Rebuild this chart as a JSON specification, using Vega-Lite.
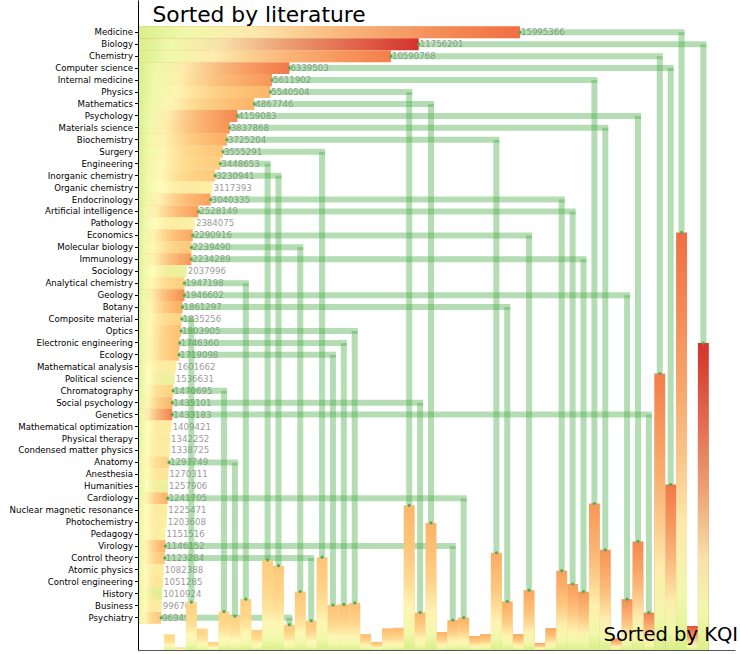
{
  "$schema": "https://vega.github.io/schema/vega-lite/v6.json",
  "width": 597,
  "height": 650,
  "autosize": {"type": "none"},
  "padding": {"left": 138, "right": 5, "top": 0, "bottom": 4},
  "config": {"view": {"stroke": null}, "font": "DejaVu Sans"},
  "datasets": {
    "fields": [
      {"field": "Medicine", "lit": 15995366, "kqi_score": 0.80, "kqi_rank": 48},
      {"field": "Biology", "lit": 11756201, "kqi_score": 0.90, "kqi_rank": 50},
      {"field": "Chemistry", "lit": 10590768, "kqi_score": 0.775, "kqi_rank": 46},
      {"field": "Computer science", "lit": 6339503, "kqi_score": 0.785, "kqi_rank": 47},
      {"field": "Internal medicine", "lit": 5611902, "kqi_score": 0.735, "kqi_rank": 40},
      {"field": "Physics", "lit": 5540504, "kqi_score": 0.68, "kqi_rank": 23},
      {"field": "Mathematics", "lit": 4867746, "kqi_score": 0.685, "kqi_rank": 25},
      {"field": "Psychology", "lit": 4159083, "kqi_score": 0.76, "kqi_rank": 44},
      {"field": "Materials science", "lit": 3837868, "kqi_score": 0.74, "kqi_rank": 41},
      {"field": "Biochemistry", "lit": 3725204, "kqi_score": 0.70, "kqi_rank": 31},
      {"field": "Surgery", "lit": 3555291, "kqi_score": 0.65, "kqi_rank": 15},
      {"field": "Engineering", "lit": 3448653, "kqi_score": 0.635, "kqi_rank": 10},
      {"field": "Inorganic chemistry", "lit": 3230941, "kqi_score": 0.64, "kqi_rank": 11},
      {"field": "Organic chemistry", "lit": 3117393, "kqi_score": 0.53},
      {"field": "Endocrinology", "lit": 3040335, "kqi_score": 0.72, "kqi_rank": 37},
      {"field": "Artificial intelligence", "lit": 2528149, "kqi_score": 0.725, "kqi_rank": 38},
      {"field": "Pathology", "lit": 2384075, "kqi_score": 0.52},
      {"field": "Economics", "lit": 2290916, "kqi_score": 0.71, "kqi_rank": 34},
      {"field": "Molecular biology", "lit": 2239490, "kqi_score": 0.645, "kqi_rank": 13},
      {"field": "Immunology", "lit": 2234289, "kqi_score": 0.73, "kqi_rank": 39},
      {"field": "Sociology", "lit": 2037996, "kqi_score": 0.45},
      {"field": "Analytical chemistry", "lit": 1947198, "kqi_score": 0.63, "kqi_rank": 8},
      {"field": "Geology", "lit": 1946602, "kqi_score": 0.75, "kqi_rank": 43},
      {"field": "Botany", "lit": 1861297, "kqi_score": 0.70, "kqi_rank": 32},
      {"field": "Composite material", "lit": 1835256, "kqi_score": 0.62, "kqi_rank": 3},
      {"field": "Optics", "lit": 1803905, "kqi_score": 0.66, "kqi_rank": 18},
      {"field": "Electronic engineering", "lit": 1746360, "kqi_score": 0.66, "kqi_rank": 17},
      {"field": "Ecology", "lit": 1719098, "kqi_score": 0.655, "kqi_rank": 16},
      {"field": "Mathematical analysis", "lit": 1601662, "kqi_score": 0.53},
      {"field": "Political science", "lit": 1536631, "kqi_score": 0.46},
      {"field": "Chromatography", "lit": 1470695, "kqi_score": 0.625, "kqi_rank": 6},
      {"field": "Social psychology", "lit": 1435101, "kqi_score": 0.68, "kqi_rank": 24},
      {"field": "Genetics", "lit": 1433183, "kqi_score": 0.77, "kqi_rank": 45},
      {"field": "Mathematical optimization", "lit": 1409421, "kqi_score": 0.53},
      {"field": "Physical therapy", "lit": 1342252, "kqi_score": 0.54},
      {"field": "Condensed matter physics", "lit": 1338725, "kqi_score": 0.53},
      {"field": "Anatomy", "lit": 1297749, "kqi_score": 0.625, "kqi_rank": 7},
      {"field": "Anesthesia", "lit": 1270311, "kqi_score": 0.57},
      {"field": "Humanities", "lit": 1257906, "kqi_score": 0.45},
      {"field": "Cardiology", "lit": 1241705, "kqi_score": 0.69, "kqi_rank": 28},
      {"field": "Nuclear magnetic resonance", "lit": 1225471, "kqi_score": 0.54},
      {"field": "Photochemistry", "lit": 1203608, "kqi_score": 0.53},
      {"field": "Pedagogy", "lit": 1151516, "kqi_score": 0.52},
      {"field": "Virology", "lit": 1146152, "kqi_score": 0.69, "kqi_rank": 27},
      {"field": "Control theory", "lit": 1123284, "kqi_score": 0.65, "kqi_rank": 14},
      {"field": "Atomic physics", "lit": 1082388, "kqi_score": 0.54},
      {"field": "Control engineering", "lit": 1051285, "kqi_score": 0.56},
      {"field": "History", "lit": 1010924, "kqi_score": 0.42},
      {"field": "Business", "lit": 996700, "kqi_score": 0.53},
      {"field": "Psychiatry", "lit": 969490, "kqi_score": 0.64, "kqi_rank": 12},
      {"kqi_rank": 1, "lit": 600000, "kqi_score": 0.615},
      {"kqi_rank": 2, "lit": 100000, "kqi_score": 0.615},
      {"kqi_rank": 4, "lit": 820000, "kqi_score": 0.62},
      {"kqi_rank": 5, "lit": 310000, "kqi_score": 0.62},
      {"kqi_rank": 9, "lit": 770000, "kqi_score": 0.63},
      {"kqi_rank": 19, "lit": 610000, "kqi_score": 0.665},
      {"kqi_rank": 20, "lit": 310000, "kqi_score": 0.665},
      {"kqi_rank": 21, "lit": 830000, "kqi_score": 0.67},
      {"kqi_rank": 22, "lit": 850000, "kqi_score": 0.67},
      {"kqi_rank": 26, "lit": 690000, "kqi_score": 0.685},
      {"kqi_rank": 29, "lit": 540000, "kqi_score": 0.695},
      {"kqi_rank": 30, "lit": 610000, "kqi_score": 0.695},
      {"kqi_rank": 33, "lit": 610000, "kqi_score": 0.705},
      {"kqi_rank": 35, "lit": 270000, "kqi_score": 0.71},
      {"kqi_rank": 36, "lit": 840000, "kqi_score": 0.71},
      {"kqi_rank": 42, "lit": 450000, "kqi_score": 0.745},
      {"kqi_rank": 49, "lit": 920000, "kqi_score": 0.85}
    ]
  },
  "data": {"name": "fields"},
  "layer": [
    {
      "transform": [{"filter": "isValid(datum.field)"}],
      "mark": {"type": "text", "align": "left", "baseline": "middle", "dx": 1, "fontSize": 8.6, "color": "#9b9b9b"},
      "encoding": {
        "x": {"field": "lit", "type": "quantitative", "scale": {"domain": [0, 25000000], "nice": false, "zero": true},
              "axis": {"orient": "bottom", "labels": false, "ticks": false, "domain": true, "domainColor": "#555555", "grid": false, "title": "Sorted by KQI", "titleFontSize": 19.5, "titleFontWeight": "normal", "titleColor": "#000000", "titleX": 465, "titleY": -10, "titleAlign": "left", "titleAnchor": "start", "titleBaseline": "alphabetic", "zindex": 1}},
        "y": {"field": "field", "type": "nominal", "scale": {"domain": ["Medicine","Biology","Chemistry","Computer science","Internal medicine","Physics","Mathematics","Psychology","Materials science","Biochemistry","Surgery","Engineering","Inorganic chemistry","Organic chemistry","Endocrinology","Artificial intelligence","Pathology","Economics","Molecular biology","Immunology","Sociology","Analytical chemistry","Geology","Botany","Composite material","Optics","Electronic engineering","Ecology","Mathematical analysis","Political science","Chromatography","Social psychology","Genetics","Mathematical optimization","Physical therapy","Condensed matter physics","Anatomy","Anesthesia","Humanities","Cardiology","Nuclear magnetic resonance","Photochemistry","Pedagogy","Virology","Control theory","Atomic physics","Control engineering","History","Business","Psychiatry"], "range": [26.3, 623.7], "paddingInner": 0, "paddingOuter": 0}, "axis": null},
        "text": {"field": "lit", "type": "quantitative", "format": "d"}
      }
    },
    {
      "transform": [{"filter": "isValid(datum.field) && isValid(datum.kqi_rank)"}],
      "encoding": {
        "x": {"field": "kqi_rank", "type": "ordinal", "scale": {"domain": [1,2,3,4,5,6,7,8,9,10,11,12,13,14,15,16,17,18,19,20,21,22,23,24,25,26,27,28,29,30,31,32,33,34,35,36,37,38,39,40,41,42,43,44,45,46,47,48,49,50], "range": [26.1, 570.8], "paddingInner": 0, "paddingOuter": 0}, "axis": null},
        "y": {"field": "field", "type": "nominal", "scale": {"domain": ["Medicine","Biology","Chemistry","Computer science","Internal medicine","Physics","Mathematics","Psychology","Materials science","Biochemistry","Surgery","Engineering","Inorganic chemistry","Organic chemistry","Endocrinology","Artificial intelligence","Pathology","Economics","Molecular biology","Immunology","Sociology","Analytical chemistry","Geology","Botany","Composite material","Optics","Electronic engineering","Ecology","Mathematical analysis","Political science","Chromatography","Social psychology","Genetics","Mathematical optimization","Physical therapy","Condensed matter physics","Anatomy","Anesthesia","Humanities","Cardiology","Nuclear magnetic resonance","Photochemistry","Pedagogy","Virology","Control theory","Atomic physics","Control engineering","History","Business","Psychiatry"], "range": [26.3, 623.7], "paddingInner": 0, "paddingOuter": 0}, "axis": null}
      },
      "layer": [
        {"mark": {"type": "rule", "stroke": "#4daf4a", "strokeOpacity": 0.42, "strokeWidth": 6, "strokeCap": "square"}, "encoding": {"x2": {"value": 6}}},
        {"mark": {"type": "rule", "stroke": "#4daf4a", "strokeOpacity": 0.42, "strokeWidth": 6, "strokeCap": "butt"}, "encoding": {"y2": {"value": "height"}}}
      ]
    },
    {
      "transform": [{"filter": "isValid(datum.field)"}],
      "encoding": {
        "x": {"field": "lit", "type": "quantitative", "scale": {"domain": [0, 25000000], "nice": false, "zero": true},
              "axis": {"orient": "top", "labels": false, "ticks": false, "domain": false, "grid": false, "title": "Sorted by literature", "titleFontSize": 21.8, "titleFontWeight": "normal", "titleColor": "#000000", "titleX": 14, "titleY": 21, "titleAlign": "left", "titleAnchor": "start", "titleBaseline": "alphabetic"}},
        "y": {"field": "field", "type": "nominal", "scale": {"domain": ["Medicine","Biology","Chemistry","Computer science","Internal medicine","Physics","Mathematics","Psychology","Materials science","Biochemistry","Surgery","Engineering","Inorganic chemistry","Organic chemistry","Endocrinology","Artificial intelligence","Pathology","Economics","Molecular biology","Immunology","Sociology","Analytical chemistry","Geology","Botany","Composite material","Optics","Electronic engineering","Ecology","Mathematical analysis","Political science","Chromatography","Social psychology","Genetics","Mathematical optimization","Physical therapy","Condensed matter physics","Anatomy","Anesthesia","Humanities","Cardiology","Nuclear magnetic resonance","Photochemistry","Pedagogy","Virology","Control theory","Atomic physics","Control engineering","History","Business","Psychiatry"], "range": [26.3, 623.7], "paddingInner": 0, "paddingOuter": 0},
              "axis": {"orient": "left", "title": null, "domain": false, "labelFontSize": 8.6, "labelColor": "#000000", "tickColor": "#000000", "tickSize": 3.5, "labelPadding": 2, "labelOverlap": false, "grid": false, "zindex": 1}}
      },
      "layer": [
        {"mark": {"type": "bar"}, "encoding": {"color": {"field": "kqi_score", "type": "quantitative", "scale": {"scheme": "redyellowgreen", "reverse": true, "domain": [0, 1]}, "legend": null}}},
        {"mark": {"type": "bar", "color": {"gradient": "linear", "x1": 0, "y1": 0, "x2": 1, "y2": 0, "stops": [
          {"offset": 0, "color": "rgba(217,239,139,1)"},
          {"offset": 0.12, "color": "rgba(240,248,170,1)"},
          {"offset": 0.3, "color": "rgba(255,255,191,0.85)"},
          {"offset": 0.6, "color": "rgba(254,232,160,0.5)"},
          {"offset": 1, "color": "rgba(254,224,139,0)"}]}}},
        {"transform": [{"filter": "isValid(datum.kqi_rank)"}], "mark": {"type": "circle", "size": 10, "color": "#55a855", "opacity": 1}}
      ]
    },
    {
      "transform": [{"filter": "isValid(datum.kqi_rank)"}],
      "encoding": {
        "x": {"field": "kqi_rank", "type": "ordinal", "scale": {"domain": [1,2,3,4,5,6,7,8,9,10,11,12,13,14,15,16,17,18,19,20,21,22,23,24,25,26,27,28,29,30,31,32,33,34,35,36,37,38,39,40,41,42,43,44,45,46,47,48,49,50], "range": [26.1, 570.8], "paddingInner": 0, "paddingOuter": 0}, "axis": null},
        "y": {"field": "lit", "type": "quantitative", "scale": {"domain": [0, 24900000], "nice": false, "zero": true},
              "axis": {"orient": "left", "labels": false, "ticks": false, "domain": true, "domainColor": "#000000", "grid": false, "title": null, "zindex": 1}}
      },
      "layer": [
        {"mark": {"type": "bar"}, "encoding": {"color": {"field": "kqi_score", "type": "quantitative", "scale": {"scheme": "redyellowgreen", "reverse": true, "domain": [0, 1]}, "legend": null}}},
        {"mark": {"type": "bar", "color": {"gradient": "linear", "x1": 0, "y1": 1, "x2": 0, "y2": 0, "stops": [
          {"offset": 0, "color": "rgba(217,239,139,1)"},
          {"offset": 0.12, "color": "rgba(240,248,170,1)"},
          {"offset": 0.3, "color": "rgba(255,255,191,0.85)"},
          {"offset": 0.6, "color": "rgba(254,232,160,0.5)"},
          {"offset": 1, "color": "rgba(254,224,139,0)"}]}}},
        {"transform": [{"filter": "isValid(datum.field)"}], "mark": {"type": "circle", "size": 10, "color": "#55a855", "opacity": 1}}
      ]
    }
  ],
  "resolve": {"scale": {"x": "independent", "y": "independent"}}
}
